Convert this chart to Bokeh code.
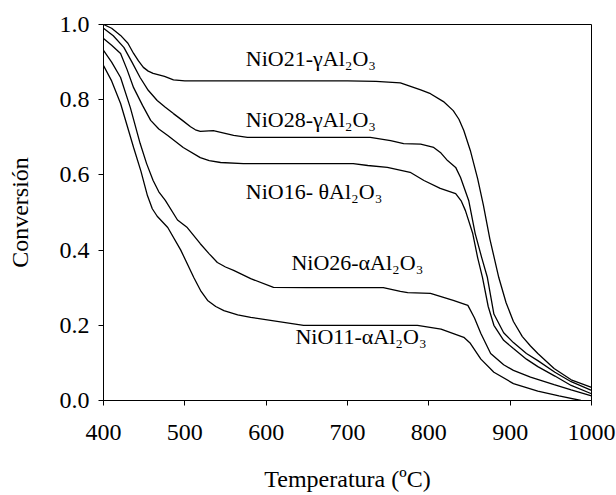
from bokeh.plotting import figure
from bokeh.models import Range1d, PrintfTickFormatter, FixedTicker, ColumnDataSource
from bokeh.core.properties import value
from bokeh.embed import file_html
from bokeh.resources import INLINE

# NiO21-gamma Al2O3
a_x = [400, 410, 421, 430, 437, 443, 449, 455, 461, 475, 486, 500, 600, 700, 735, 765, 790, 802, 818, 830, 837, 843, 851, 860, 867, 875, 886, 895, 904, 915, 925, 934, 954, 975, 1000]
a_y = [1.0, 0.99, 0.971, 0.95, 0.923, 0.903, 0.886, 0.876, 0.870, 0.862, 0.853, 0.85, 0.85, 0.85, 0.849, 0.845, 0.826, 0.816, 0.795, 0.771, 0.748, 0.718, 0.665, 0.59, 0.52, 0.43, 0.327, 0.26, 0.21, 0.17, 0.145, 0.125, 0.085, 0.055, 0.035]

# NiO28-gamma Al2O3
b_x = [400, 412, 425, 435, 445, 455, 466, 476, 486, 497, 507, 513, 519, 535, 560, 577, 650, 728, 753, 769, 790, 806, 815, 823, 833, 839, 849, 857, 865, 872, 880, 892, 904, 920, 934, 955, 975, 1000]
b_y = [0.99, 0.97, 0.939, 0.9, 0.859, 0.825, 0.798, 0.78, 0.763, 0.745, 0.728, 0.72, 0.716, 0.718, 0.705, 0.70, 0.70, 0.70, 0.691, 0.683, 0.682, 0.673, 0.658, 0.638, 0.62, 0.593, 0.532, 0.444, 0.38, 0.327, 0.23, 0.18, 0.154, 0.125, 0.106, 0.075, 0.05, 0.027]

# NiO16-theta Al2O3
c_x = [400, 410, 421, 429, 437, 448, 458, 468, 479, 498, 519, 530, 544, 572, 650, 707, 725, 749, 777, 794, 814, 833, 840, 845, 854, 860, 866, 873, 880, 892, 904, 920, 934, 955, 975, 1000]
c_y = [0.963, 0.945, 0.923, 0.88, 0.832, 0.785, 0.745, 0.722, 0.705, 0.673, 0.646, 0.638, 0.633, 0.63, 0.63, 0.63, 0.625, 0.62, 0.607, 0.585, 0.564, 0.55, 0.53, 0.505, 0.444, 0.38, 0.327, 0.25, 0.2, 0.16, 0.138, 0.11, 0.09, 0.065, 0.04, 0.018]

# NiO26-alpha Al2O3
d_x = [400, 410, 421, 433, 445, 453, 461, 468, 476, 491, 503, 519, 530, 540, 550, 560, 581, 609, 650, 700, 744, 765, 774, 802, 830, 848, 856, 864, 876, 892, 904, 925, 954, 975, 1000]
d_y = [0.931, 0.9, 0.859, 0.779, 0.684, 0.63, 0.585, 0.555, 0.532, 0.48, 0.46, 0.417, 0.39, 0.367, 0.355, 0.346, 0.324, 0.301, 0.30, 0.30, 0.30, 0.29, 0.287, 0.285, 0.266, 0.253, 0.22, 0.178, 0.125, 0.095, 0.08, 0.062, 0.042, 0.028, 0.012]

# NiO11-alpha Al2O3
e_x = [400, 410, 421, 437, 446, 454, 460, 466, 479, 495, 511, 520, 528, 538, 548, 565, 581, 646, 700, 786, 815, 843, 851, 864, 880, 904, 934, 960, 987]
e_y = [0.891, 0.85, 0.79, 0.673, 0.61, 0.545, 0.51, 0.49, 0.46, 0.40, 0.327, 0.29, 0.266, 0.25, 0.239, 0.228, 0.221, 0.2, 0.2, 0.2, 0.19, 0.168, 0.152, 0.11, 0.075, 0.045, 0.025, 0.012, 0.0]

label_text = ["NiO21-\u03b3Al\u2082O\u2083", "NiO28-\u03b3Al\u2082O\u2083", "NiO16- \u03b8Al\u2082O\u2083",
              "NiO26-\u03b1Al\u2082O\u2083", "NiO11-\u03b1Al\u2082O\u2083"]
label_x = [575, 575, 575, 631, 636]
label_y = [0.91, 0.747, 0.557, 0.366, 0.171]

x_ticks = [400, 500, 600, 700, 800, 900, 1000]
y_ticks = [0.0, 0.2, 0.4, 0.6, 0.8, 1.0]

FONT = "Liberation Serif"

p = figure(width=616, height=495, output_backend="svg", toolbar_location=None,
           x_range=Range1d(400, 1000), y_range=Range1d(0, 1.0),
           min_border_left=103, min_border_right=25, min_border_top=24, min_border_bottom=95)

for xs, ys in [(a_x, a_y), (b_x, b_y), (c_x, c_y), (d_x, d_y), (e_x, e_y)]:
    p.line(xs, ys, line_color="black", line_width=1.3)

src = ColumnDataSource(dict(x=label_x, y=label_y, t=label_text))
p.text(x="x", y="y", text="t", source=src, text_font=value(FONT), text_font_size="22px",
       text_align="left", text_baseline="middle", text_color="black")

p.grid.visible = False
p.outline_line_color = "black"
p.outline_line_width = 1
p.background_fill_color = "white"
p.border_fill_color = "white"

p.xaxis.ticker = FixedTicker(ticks=x_ticks)
p.yaxis.ticker = FixedTicker(ticks=y_ticks)
p.yaxis.formatter = PrintfTickFormatter(format="%.1f")

for ax in (p.xaxis, p.yaxis):
    ax.axis_line_color = "black"
    ax.major_tick_line_color = "black"
    ax.major_tick_out = 5
    ax.major_tick_in = 0
    ax.minor_tick_line_color = None
    ax.major_label_text_font = FONT
    ax.major_label_text_font_size = "24px"
    ax.major_label_text_color = "black"
    ax.axis_label_text_font = FONT
    ax.axis_label_text_font_size = "24px"
    ax.axis_label_text_font_style = "normal"
    ax.axis_label_text_color = "black"

p.xaxis.major_label_standoff = 19
p.yaxis.major_label_standoff = 9
p.xaxis.axis_label = "Temperatura (\u00baC)"
p.yaxis.axis_label = "Conversi\u00f3n"
p.xaxis.axis_label_standoff = 23
p.yaxis.axis_label_standoff = 24

open("out.html", "w").write(file_html(p, INLINE))
